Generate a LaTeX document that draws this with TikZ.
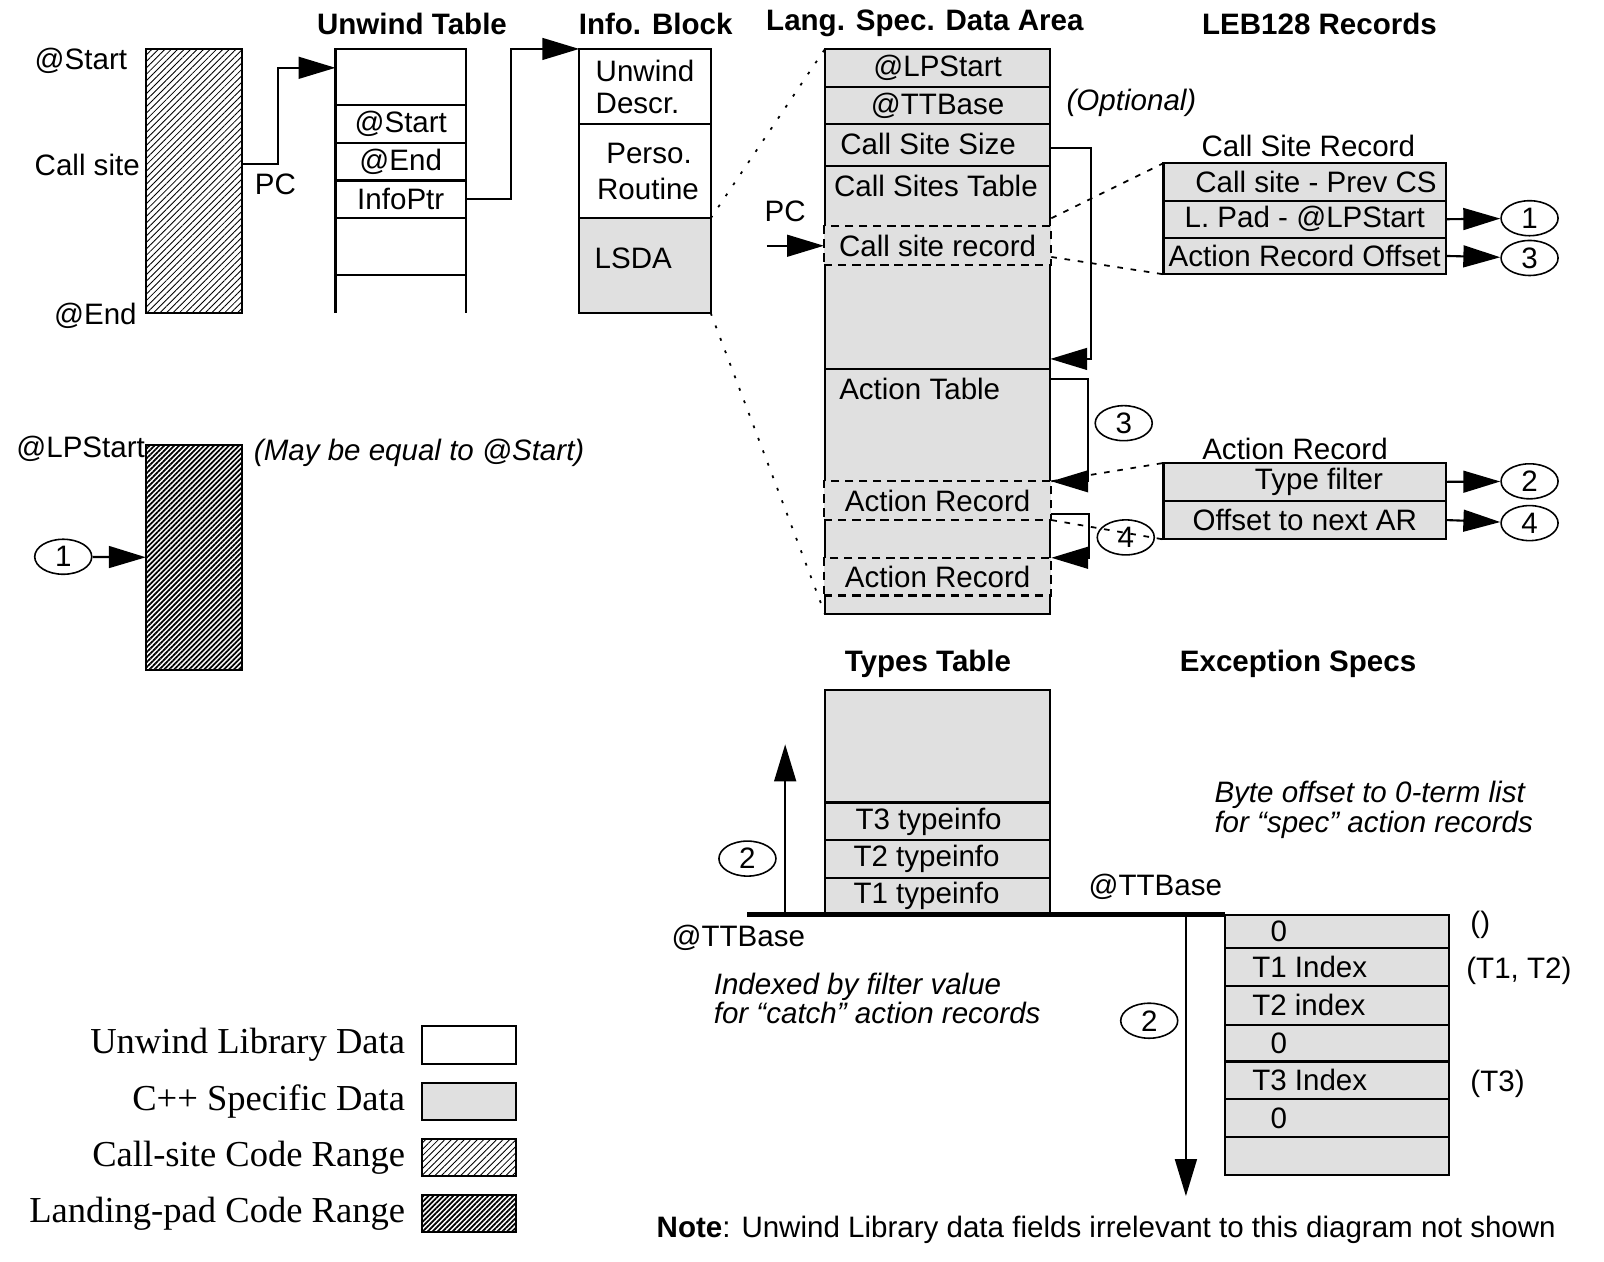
\documentclass[tikz,border=0pt]{standalone}
\usepackage{fontspec}
\setmainfont{Liberation Serif}
\setsansfont{Liberation Sans}
\usepackage{xcolor}
\usepackage{tikz}
\usetikzlibrary{shapes,arrows.meta,patterns.meta,positioning}
\definecolor{cppgray}{gray}{0.88}
\newdimen\pxu \pxu=0.0102cm
\def\figfont{\fontsize{8.4}{9}\selectfont}
\def\cell#1#2#3#4#5{\node[cell,minimum width=#3\pxu,minimum height=#4\pxu,#5] (#1) at (#2)}
\tikzstyle{cell}=[draw,anchor=north west,inner sep=0pt,outer sep=0pt]
\tikzstyle{cpp}=[fill=cppgray]
\tikzstyle{rec}=[draw,dash pattern=on 2.4pt off 1.6pt,fill=cppgray,anchor=north,minimum width=223\pxu,inner sep=0pt,outer sep=0pt]
\tikzstyle{heading}=[font=\sffamily\bfseries\figfont]
\tikzstyle{conn}=[-{Triangle[length=10.5pt,width=6.2pt]}]
\tikzstyle{num}=[ellipse,draw,line width=0.45pt,minimum width=0.57cm,minimum height=0.35cm,inner sep=0pt]
\tikzstyle{zoomline}=[line width=0.5pt,dash pattern=on 0.8pt off 3pt]
\tikzstyle{lead}=[line width=0.5pt,dash pattern=on 1.6pt off 2.2pt]
\tikzstyle{csrange}=[pattern={Lines[angle=45,distance=1.3pt,line width=0.25pt]}]
\tikzstyle{lprange}=[pattern={Lines[angle=45,distance=1pt,line width=0.5pt]}]
\tikzstyle{legtxt}=[font=\rmfamily\fontsize{10.4}{12}\selectfont]
\tikzstyle{itnote}=[anchor=west,align=left,font=\sffamily\itshape\fontsize{8.4}{8.4}\selectfont]

\begin{document}
\begin{tikzpicture}[x=0.0102cm,y=-0.0102cm,line width=0.6pt,font=\sffamily\figfont,every node/.style={inner sep=0pt}]
    \useasboundingbox (0,0) rectangle (1573,1237);
    % headings
    \node[heading] (hut) at (404,23) {Unwind Table};
    \node[heading] (hib) at (643,23) {Info. Block};
    \node[heading] (hlsda) at (907,23) {Lang. Spec. Data Area};
    \node[heading] (hleb) at (1294,23) {LEB128 Records};
    \node[heading] (htt) at (910,651) {Types Table};
    \node[heading] (hes) at (1273,651) {Exception Specs};

    % call-site code range
    \cell{cs}{143,48}{94}{259}{csrange}{};
    \node[anchor=west] (lstart) at (33,60) {@Start};
    \node[anchor=west] (lcall) at (33,162) {Call site};
    \node[anchor=west] (lend) at (52,310) {@End};

    % unwind table
    \cell{ut0}{329,48}{128}{55}{}{};
    \cell{ut1}{329,103}{128}{37}{}{@Start};
    \cell{ut2}{329,140}{128}{37}{}{@End};
    \cell{ut3}{329,177}{128}{37}{}{InfoPtr};
    \cell{ut4}{329,214}{128}{56}{}{};
    \draw (ut4.south west) -- ++(0,37) (ut4.south east) -- ++(0,37);
    \draw[conn] ([yshift=17\pxu]cs.east) -- ++(36,0) |- ([yshift=9\pxu]ut0.west);
    \node (pc1) at (270,181) {PC};

    % info block
    \cell{ib1}{568,48}{129}{74}{align=left}{Unwind\\Descr.};
    \cell{ib2}{568,122}{129}{92}{align=center,font=\sffamily\fontsize{8.4}{10.4}\selectfont}{\hspace*{8\pxu}Perso.\\\hspace*{6\pxu}Routine};
    \cell{ib3}{568,214}{129}{93}{cpp}{};
    \node (lsda) at (621,253) {LSDA};
    \draw[conn] (ut3.east) -- ++(44,0) |- (ib1.north west);

    % language specific data area
    \cell{lp1}{809,48}{221}{37}{cpp}{@LPStart};
    \cell{lp2}{809,85}{221}{37}{cpp}{@TTBase};
    \cell{lp3}{809,122}{221}{41}{cpp}{};
    \cell{lp4}{809,163}{221}{199}{cpp}{};
    \cell{lp5}{809,362}{221}{240}{cpp}{};
    \node[rec,minimum height=38\pxu] (csrec) at (919.5,222) {Call site record};
    \node[rec,minimum height=38\pxu] (ar1) at (919.5,472) {Action Record};
    \node[rec,minimum height=37\pxu] (ar2) at (919.5,547) {Action Record};
    \node[anchor=west] (tcss) at (823,141) {Call Site Size};
    \node[anchor=west] (tcst) at (817,182) {Call Sites Table};
    \node[anchor=west] (tat) at (822,381) {Action Table};
    \node[anchor=west,font=\sffamily\itshape\figfont] (topt) at (1045,101) {(Optional)};
    \draw[zoomline] (ib2.south east) -- (lp1.north west);
    \draw[zoomline] (ib3.south east) -- (lp5.south west);
    \coordinate (pcfrom) at (752,241);
    \node (pc2) at (770,207) {PC};
    \draw[conn] (pcfrom) -- (csrec.west);
    \draw[conn] ([yshift=-3\pxu]lp3.east) -- ++(40,0) |- ([yshift=10\pxu]lp4.south east);
    \draw[conn] ([yshift=-10\pxu]lp5.north east) -- ++(37,0) |- (ar1.north east);
    \draw[conn] ([yshift=6\pxu]ar1.south east) -- ++(37,0) |- (ar2.north east);
    \node[num] (n3a) at (1102,415) {3};
    \node[num] (n4a) at (1104,527) {4};

    % LEB128 records
    \node (tcsr) at (1283,143) {Call Site Record};
    \cell{csa}{1141,160}{277}{37}{cpp}{};
    \cell{csb}{1141,197}{277}{36}{cpp}{L. Pad - @LPStart};
    \cell{csc}{1141,233}{277}{36}{cpp}{Action Record Offset};
    \node (csat) at ([xshift=11\pxu]csa.center) {Call site - Prev CS};
    \draw[lead] ([yshift=8\pxu]csrec.north east) -- (csa.north west);
    \draw[lead] ([yshift=8\pxu]csrec.south east) -- (csc.south west);
    \node[num] (n1r) at (1500,214) {1};
    \node[num] (n3r) at (1500,253) {3};
    \draw[conn] (csb.east) -- (n1r);
    \draw[conn] (csc.east) -- (n3r);

    \node (tar) at (1270,440) {Action Record};
    \cell{arA}{1141,454}{277}{37}{cpp}{};
    \cell{arB}{1141,491}{277}{38}{cpp}{Offset to next AR};
    \node (arAt) at ([xshift=14\pxu]arA.center) {Type filter};
    \draw[lead] (ar1.north east) -- (arA.north west);
    \draw[lead] (ar1.south east) -- (arB.south west);
    \node[num] (n2r) at (1500,472) {2};
    \node[num] (n4r) at (1500,513) {4};
    \draw[conn] (arA.east) -- (n2r);
    \draw[conn] (arB.east) -- (n4r);

    % landing pad
    \node[anchor=west] (llp) at (15,440) {@LPStart};
    \cell{lpad}{143,436}{94}{221}{lprange}{};
    \node[anchor=west,font=\sffamily\itshape\figfont] (lmay) at (248,444) {(May be equal to @Start)};
    \node[num] (n1l) at (62,546) {1};
    \draw[conn] (n1l) -- (lpad.west);

    % types table
    \cell{tt0}{809,677}{221}{110}{cpp}{};
    \cell{tt1}{809,787}{221}{37}{cpp}{};
    \cell{tt2}{809,824}{221}{37}{cpp}{};
    \cell{tt3}{809,861}{221}{36}{cpp}{};
    \node[anchor=west] (ttx1) at ([xshift=29\pxu]tt1.west) {T3 typeinfo};
    \node[anchor=west] (ttx2) at ([xshift=27\pxu]tt2.west) {T2 typeinfo};
    \node[anchor=west] (ttx3) at ([xshift=27\pxu]tt3.west) {T1 typeinfo};

    % exception specs
    \cell{es0}{1201,897}{220}{33}{cpp}{};
    \cell{es1}{1201,930}{220}{37}{cpp}{};
    \cell{es2}{1201,967}{220}{38}{cpp}{};
    \cell{es3}{1201,1005}{220}{36}{cpp}{};
    \cell{es4}{1201,1041}{220}{37}{cpp}{};
    \cell{es5}{1201,1078}{220}{37}{cpp}{};
    \cell{es6}{1201,1115}{220}{37}{cpp}{};
    \node[anchor=west] (esx0) at ([xshift=44\pxu]es0.west) {0};
    \node[anchor=west] (esx1) at ([xshift=26\pxu]es1.west) {T1 Index};
    \node[anchor=west] (esx2) at ([xshift=26\pxu]es2.west) {T2 index};
    \node[anchor=west] (esx3) at ([xshift=44\pxu]es3.west) {0};
    \node[anchor=west] (esx4) at ([xshift=26\pxu]es4.west) {T3 Index};
    \node[anchor=west] (esx5) at ([xshift=44\pxu]es5.west) {0};
    \node[anchor=west] (sp0) at (1441,907) {()};
    \node[anchor=west] (sp1) at (1437,952) {(T1, T2)};
    \node[anchor=west] (sp2) at (1441,1063) {(T3)};

    % @TTBase line and offsets
    \coordinate (ttbase) at (733,897);
    \draw[line width=1.3pt] (ttbase) -- (es0.north west);
    \coordinate (upfoot) at (770,897);
    \coordinate (uptip) at (770,730);
    \draw[conn] (upfoot) -- (uptip);
    \node[num] (n2u) at (733,842) {2};
    \coordinate (dnfoot) at (1163,897);
    \coordinate (dntip) at (1163,1173);
    \draw[conn] (dnfoot) -- (dntip);
    \node[num] (n2d) at (1127,1001) {2};
    \node (tb1) at (724,920) {@TTBase};
    \node (tb2) at (1133,870) {@TTBase};
    \node[itnote] (tidx) at (699,979) {Indexed by filter value\\for “catch” action records};
    \node[itnote] (tbyte) at (1190,794) {Byte offset to 0-term list\\for “spec” action records};

    \node[anchor=west] (note) at (643,1206) {\textbf{Note}: Unwind Library data fields irrelevant to this diagram not shown};

    % legend
    \cell{lg1}{414,1006}{92}{37}{}{};
    \cell{lg2}{414,1062}{92}{36}{cpp}{};
    \cell{lg3}{414,1117}{92}{36}{csrange}{};
    \cell{lg4}{414,1172}{92}{36}{lprange}{};
    \node[legtxt,left=0.16cm of lg1] (lt1) {Unwind Library Data};
    \node[legtxt,left=0.16cm of lg2] (lt2) {C++ Specific Data};
    \node[legtxt,left=0.16cm of lg3] (lt3) {Call-site Code Range};
    \node[legtxt,left=0.16cm of lg4] (lt4) {Landing-pad Code Range};
\end{tikzpicture}
\end{document}
